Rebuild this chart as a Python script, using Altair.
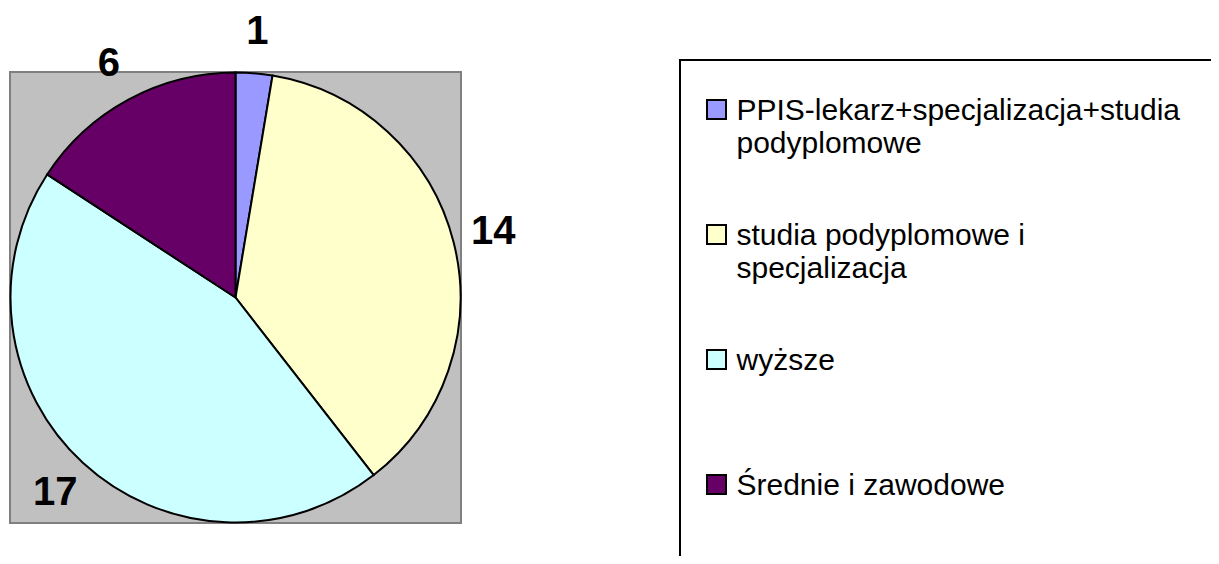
import json
import altair as alt
import pandas as pd

# ---- data ----
categories = [
    "PPIS-lekarz+specjalizacja+studia podyplomowe",
    " studia podyplomowe i specjalizacja",
    "wyższe",
    "Średnie i zawodowe",
]
values = [1, 14, 17, 6]
colors = ["#9999FF", "#FFFFCC", "#CCFFFF", "#660066"]
legend_lines = [
    ["PPIS-lekarz+specjalizacja+studia", "podyplomowe"],
    ["\u2002studia podyplomowe i", "specjalizacja"],
    ["wyższe", ""],
    ["Średnie i zawodowe", ""],
]

df = pd.DataFrame({"category": categories, "value": values, "order": list(range(len(values)))})

# legend label expression (multi-line)
expr = "datum.label"
for cat, lines in reversed(list(zip(categories, legend_lines))):
    expr = f"datum.label == {json.dumps(cat)} ? {json.dumps(lines)} : ({expr})"

FONT = "Liberation Sans"
CX, CY, R = 227.5, 289.5, 225

# gray plot-area background
bg = alt.Chart(pd.DataFrame({"k": [0]})).mark_rect(
    fill="#C0C0C0", stroke="#808080", strokeWidth=2
).encode(x=alt.value(2), x2=alt.value(453), y=alt.value(64), y2=alt.value(515))

# legend frame
frame = alt.Chart(pd.DataFrame({"k": [0]})).mark_rect(
    fill="white", stroke="black", strokeWidth=2
).encode(x=alt.value(672), x2=alt.value(1300), y=alt.value(52), y2=alt.value(700))

base = alt.Chart(df).encode(
    theta=alt.Theta("value:Q", stack=True),
    order=alt.Order("order:Q"),
)

pie = base.mark_arc(outerRadius=R, stroke="black", strokeWidth=2).encode(
    x=alt.value(CX),
    y=alt.value(CY),
    color=alt.Color(
        "category:N",
        scale=alt.Scale(domain=categories, range=colors),
        legend=alt.Legend(
            title=None,
            orient="none",
            legendX=693.5,
            legendY=86.5,
            padding=0,
            symbolType="square",
            symbolSize=361,
            symbolStrokeColor="black",
            symbolStrokeWidth=2,
            symbolOpacity=1,
            labelFont=FONT,
            labelFontSize=30,
            labelColor="black",
            labelOffset=5,
            labelLimit=0,
            labelExpr=expr,
            rowPadding=60,
        ),
    ),
)

labels = base.mark_text(
    radius=266, font=FONT, fontSize=40, fontWeight="bold", color="black"
).encode(x=alt.value(CX), y=alt.value(CY), text=alt.Text("value:Q"))

chart = (
    alt.layer(bg, frame, pie, labels)
    .properties(width=1203, height=548, padding=0, autosize=alt.AutoSizeParams(type="none"))
    .configure(style={"guide-label": {"dy": 1.5, "lineHeight": 33}})
    .configure_view(stroke=None)
)

chart.save("out.html", embed_options={"renderer": "svg", "actions": False})
